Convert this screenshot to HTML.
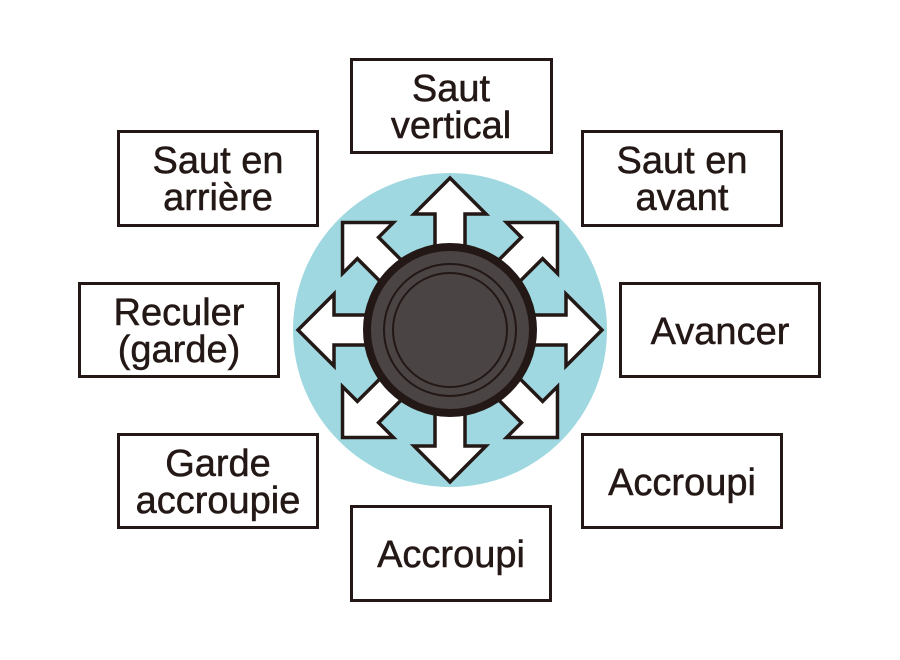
<!DOCTYPE html>
<html><head><meta charset="utf-8"><style>
html,body{margin:0;padding:0;background:#fff;}
svg{display:block;}
text{font-family:"Liberation Sans",sans-serif;font-size:38px;fill:#231815;text-anchor:middle;stroke:#231815;stroke-width:0.5;}
</style></head><body>
<svg width="900" height="660" viewBox="0 0 900 660" xmlns="http://www.w3.org/2000/svg">
<circle cx="450" cy="330" r="157" fill="#9fd8e0"/>
<defs>
<polygon id="ar" points="0,-152 36,-116 15,-116 15,-75 -15,-75 -15,-116 -36,-116" fill="#fff" stroke="#231815" stroke-width="3.5" stroke-linejoin="miter"/>
</defs>
<g transform="translate(450,330)">
<use href="#ar"/>
<use href="#ar" transform="rotate(45)"/>
<use href="#ar" transform="rotate(90)"/>
<use href="#ar" transform="rotate(135)"/>
<use href="#ar" transform="rotate(180)"/>
<use href="#ar" transform="rotate(225)"/>
<use href="#ar" transform="rotate(270)"/>
<use href="#ar" transform="rotate(315)"/>
<circle r="87" fill="#231815"/>
<circle r="79" fill="#4a4444"/>
<circle r="66" fill="none" stroke="#231815" stroke-width="2"/>
<circle r="57" fill="none" stroke="#231815" stroke-width="2"/>
</g>
<g fill="#fff" stroke="#231815" stroke-width="3">
<rect x="351.5" y="59.5" width="200" height="93"/>
<rect x="118.5" y="131.5" width="199" height="94"/>
<rect x="582.5" y="131.5" width="199" height="94"/>
<rect x="79.5" y="283.5" width="199" height="93"/>
<rect x="620.5" y="283.5" width="199" height="93"/>
<rect x="118.5" y="434.5" width="199" height="93"/>
<rect x="582.5" y="434.5" width="199" height="93"/>
<rect x="351.5" y="506.5" width="199" height="94"/>
</g>
<text x="451" y="101">Saut</text><text x="451" y="138">vertical</text>
<text x="218" y="173">Saut en</text><text x="218" y="210">arrière</text>
<text x="682" y="173">Saut en</text><text x="682" y="210">avant</text>
<text x="179" y="325">Reculer</text><text x="179" y="362">(garde)</text>
<text x="720" y="344">Avancer</text>
<text x="218" y="476">Garde</text><text x="218" y="513">accroupie</text>
<text x="682" y="495">Accroupi</text>
<text x="451" y="567">Accroupi</text>
</svg>
</body></html>
